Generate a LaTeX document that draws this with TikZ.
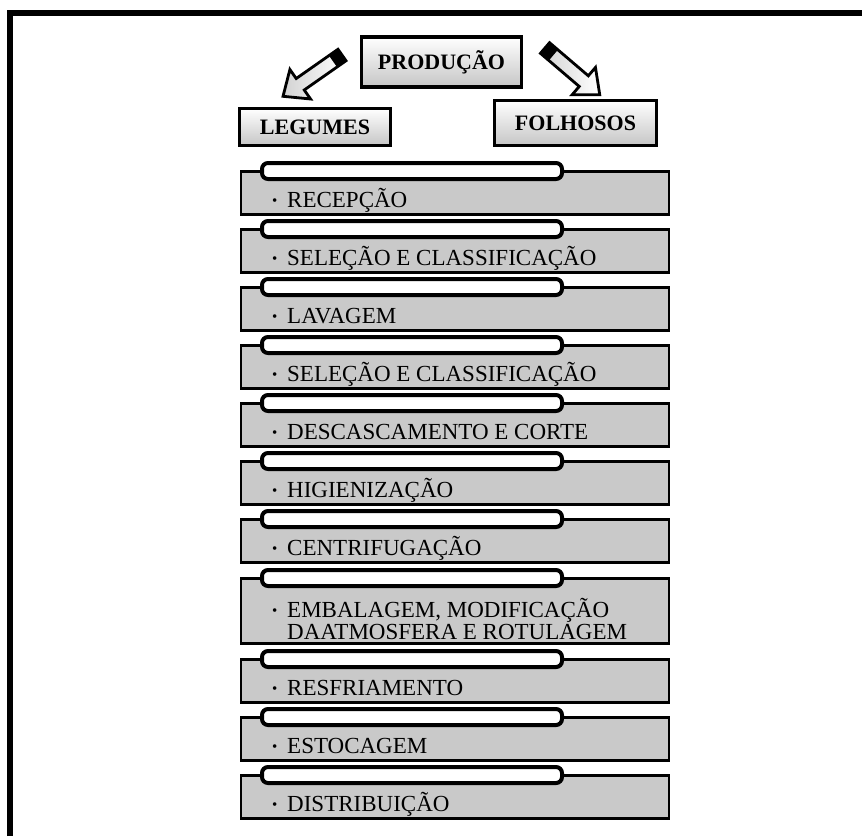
\documentclass[tikz,border=0pt]{standalone}
\usepackage{fontspec}
\setmainfont{Liberation Serif}
\usepackage{tikz}
\usetikzlibrary{positioning}
\usetikzlibrary{shadows}

\tikzset{
  blockarrow/.pic={
    \shade[left color=gray!35, right color=white]
      (0,-7) -- (51,-7) -- (51,-18) -- (72,0) -- (51,18) -- (51,7) -- (0,7) -- cycle;
    \fill[black] (0,-7) rectangle (11,7);
    \draw[line width=2.8pt, line join=miter]
      (0,-7) -- (51,-7) -- (51,-18) -- (72,0) -- (51,18) -- (51,7) -- (0,7) -- cycle;
  }
}

\begin{document}
\begin{tikzpicture}
  [ x=1pt, y=-1pt,
    head/.style={
       draw=black,
       line width=3.2pt,
       top color=white,
       bottom color=gray!45,
       inner sep=0pt,
       font=\fontsize{22}{22}\selectfont\bfseries,
       drop shadow={shadow xshift=1.5pt, shadow yshift=-1.5pt, opacity=0.3}
    },
    stepbox/.style={
       draw=black,
       line width=2.5pt,
       fill=gray!42,
       minimum width=428pt,
       inner sep=0pt,
       anchor=north west,
       drop shadow={shadow xshift=1pt, shadow yshift=-1.5pt, opacity=0.3}
    },
    pill/.style={
       draw=black,
       line width=4pt,
       fill=white,
       rounded corners=6pt,
       minimum width=300pt,
       minimum height=16pt,
       inner sep=0pt,
       anchor=north west,
       drop shadow={shadow xshift=1pt, shadow yshift=-1.5pt, opacity=0.35}
    },
    steptext/.style={
       anchor=base west,
       inner sep=0pt,
       align=left,
       font=\fontsize{23}{22}\selectfont
    }
  ]
  \useasboundingbox (0,0) rectangle (862,836);
  \fill[white] (0,0) rectangle (862,836);

  % frame
  \draw[line width=6pt, line cap=butt] (10,836) -- (10,13) -- (862,13);

  % top
  \node (prod) at (441.5,62) [head, minimum width=160pt, minimum height=50pt]
        {\raisebox{3pt}{PRODUÇÃO}};
  \node (leg)  at (315,127)  [head, minimum width=151pt, minimum height=37pt] {LEGUMES};
  \node (folh) at (575.5,123) [head, minimum width=162pt, minimum height=45pt] {FOLHOSOS};

  \coordinate (arrLtail) at (342,55);
  \coordinate (arrRtail) at (545,48);
  \pic[rotate=215]   at (arrLtail) {blockarrow};
  \pic[rotate=-40.5] at (arrRtail) {blockarrow};

  % steps
  \def\bul{\makebox[15pt][l]{\fontsize{15}{15}\selectfont\raisebox{2pt}{•}}}

  \node (s01) at (239.5,170) [stepbox, minimum height=43pt] {};
  \node (p01) at (260,161)   [pill] {};
  \node (t01) at (272,207)   [steptext] {\bul RECEPÇÃO};

  \node (s02) at (239.5,228) [stepbox, minimum height=43pt] {};
  \node (p02) at (260,219)   [pill] {};
  \node (t02) at (272,265)   [steptext] {\bul SELEÇÃO E CLASSIFICAÇÃO};

  \node (s03) at (239.5,286) [stepbox, minimum height=43pt] {};
  \node (p03) at (260,277)   [pill] {};
  \node (t03) at (272,323)   [steptext] {\bul LAVAGEM};

  \node (s04) at (239.5,344) [stepbox, minimum height=43pt] {};
  \node (p04) at (260,335)   [pill] {};
  \node (t04) at (272,381)   [steptext] {\bul SELEÇÃO E CLASSIFICAÇÃO};

  \node (s05) at (239.5,402) [stepbox, minimum height=43pt] {};
  \node (p05) at (260,393)   [pill] {};
  \node (t05) at (272,439)   [steptext] {\bul DESCASCAMENTO E CORTE};

  \node (s06) at (239.5,460) [stepbox, minimum height=43pt] {};
  \node (p06) at (260,451)   [pill] {};
  \node (t06) at (272,497)   [steptext] {\bul HIGIENIZAÇÃO};

  \node (s07) at (239.5,518) [stepbox, minimum height=43pt] {};
  \node (p07) at (260,509)   [pill] {};
  \node (t07) at (272,555)   [steptext] {\bul CENTRIFUGAÇÃO};

  \node (s08) at (239.5,577) [stepbox, minimum height=65pt] {};
  \node (p08) at (260,568)   [pill] {};
  \node (t08) at (272,639)   [steptext]
        {\bul EMBALAGEM, MODIFICAÇÃO\\\hspace*{15pt}DAATMOSFERA E ROTULAGEM};

  \node (s09) at (239.5,658) [stepbox, minimum height=43pt] {};
  \node (p09) at (260,649)   [pill] {};
  \node (t09) at (272,695)   [steptext] {\bul RESFRIAMENTO};

  \node (s10) at (239.5,716) [stepbox, minimum height=43pt] {};
  \node (p10) at (260,707)   [pill] {};
  \node (t10) at (272,753)   [steptext] {\bul ESTOCAGEM};

  \node (s11) at (239.5,774) [stepbox, minimum height=43pt] {};
  \node (p11) at (260,765)   [pill] {};
  \node (t11) at (272,811)   [steptext] {\bul DISTRIBUIÇÃO};
\end{tikzpicture}
\end{document}
